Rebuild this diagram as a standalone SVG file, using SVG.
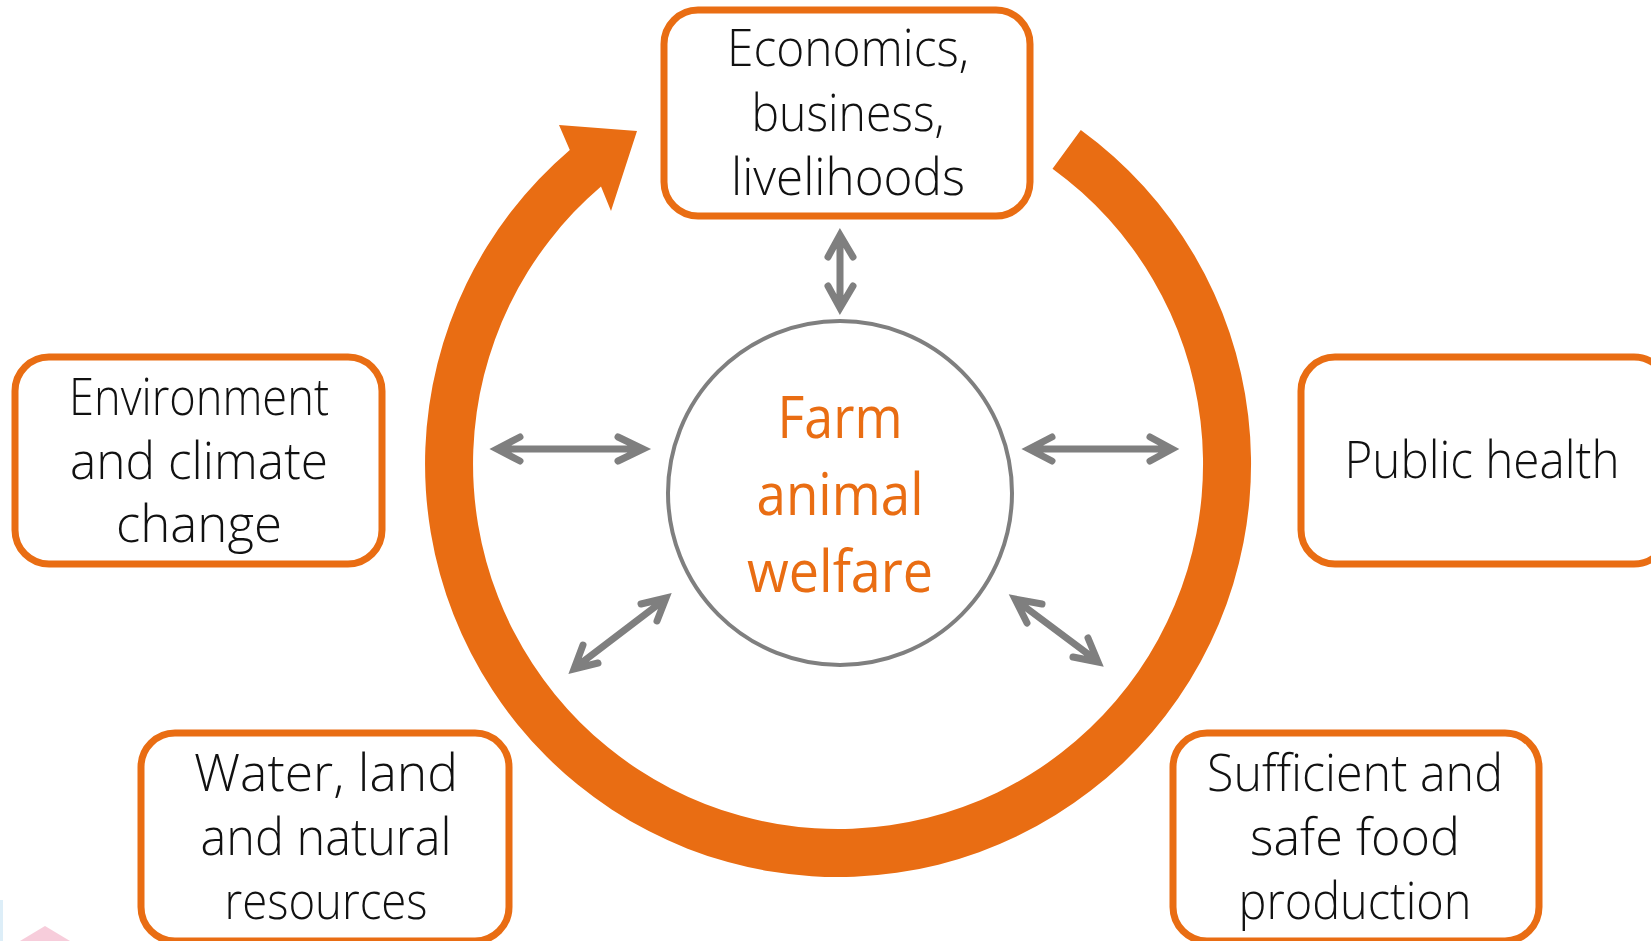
<svg xmlns="http://www.w3.org/2000/svg" width="1651" height="941" viewBox="0 0 1651 941">
<defs>
<style>
.box{fill:#fff;stroke:#E96D13;stroke-width:7}
.lbl{font-family:"Open Sans",Lato,"DejaVu Sans",sans-serif;font-weight:300;font-size:51px;fill:#111;text-anchor:middle}
.ctr{font-family:"Open Sans",Lato,sans-serif;font-size:58px;fill:#E96D13;text-anchor:middle}
.ga{fill:none;stroke:#7F7F7F;stroke-width:7;stroke-linecap:round;stroke-linejoin:miter}
</style>
</defs>
<rect width="1651" height="941" fill="#fff"/>
<polygon points="20,941 45,926 70,941" fill="#F7CDDB"/>
<rect x="0" y="900" width="3" height="41" fill="#DDEEF8"/>
<g id="cycle">
<path d="M 1080.8 129.9 A 413 413 0 1 1 569.8 150 L 559 125 L 637 131 L 611 211 L 601 186.5 A 365 365 0 1 0 1052.5 168.7 Z" fill="#E96D13"/>
</g>
<g id="center">
<circle cx="840" cy="493" r="172" fill="#fff" stroke="#7F7F7F" stroke-width="4"/>
<text class="ctr" x="840" y="438" textLength="125" lengthAdjust="spacingAndGlyphs">Farm</text>
<text class="ctr" x="840" y="515" textLength="167" lengthAdjust="spacingAndGlyphs">animal</text>
<text class="ctr" x="840" y="592" textLength="186" lengthAdjust="spacingAndGlyphs">welfare</text>
</g>
<g id="economics">
<rect class="box" x="664" y="10" width="366" height="206" rx="34"/>
<text class="lbl" x="848" y="66" textLength="242" lengthAdjust="spacingAndGlyphs">Economics,</text>
<text class="lbl" x="848" y="131" textLength="193" lengthAdjust="spacingAndGlyphs">business,</text>
<text class="lbl" x="848" y="195" textLength="234" lengthAdjust="spacingAndGlyphs">livelihoods</text>
</g>
<g id="environment">
<rect class="box" x="15" y="357" width="367" height="207" rx="34"/>
<text class="lbl" x="199" y="415" textLength="260" lengthAdjust="spacingAndGlyphs">Environment</text>
<text class="lbl" x="199" y="479" textLength="258" lengthAdjust="spacingAndGlyphs">and climate</text>
<text class="lbl" x="199" y="542" textLength="166" lengthAdjust="spacingAndGlyphs">change</text>
</g>
<g id="public-health">
<rect class="box" x="1301" y="357" width="367" height="207" rx="34"/>
<text class="lbl" x="1482" y="478" textLength="275" lengthAdjust="spacingAndGlyphs">Public health</text>
</g>
<g id="water">
<rect class="box" x="141" y="733" width="368" height="208" rx="34"/>
<text class="lbl" x="326" y="791" textLength="264" lengthAdjust="spacingAndGlyphs">Water, land</text>
<text class="lbl" x="326" y="855" textLength="251" lengthAdjust="spacingAndGlyphs">and natural</text>
<text class="lbl" x="326" y="919" textLength="203" lengthAdjust="spacingAndGlyphs">resources</text>
</g>
<g id="food">
<rect class="box" x="1173" y="733" width="366" height="208" rx="34"/>
<text class="lbl" x="1355" y="791" textLength="296" lengthAdjust="spacingAndGlyphs">Sufficient and</text>
<text class="lbl" x="1355" y="855" textLength="210" lengthAdjust="spacingAndGlyphs">safe food</text>
<text class="lbl" x="1355" y="919" textLength="233" lengthAdjust="spacingAndGlyphs">production</text>
</g>
<g id="connectors">
<path class="ga" d="M840 238 L840 305 M828 257 L840 235 L853 257 M828 286 L840 308 L853 286"/>
<path class="ga" d="M499 449 L641 449 M520 437 L497 449 L520 461 M618 437 L643 449 L618 461"/>
<path class="ga" d="M1031 449 L1170 449 M1052 437 L1029 449 L1052 461 M1150 437 L1172 449 L1150 461"/>
<path class="ga" d="M576 667 L664 600 M641 604 L666 598 L657 621 M583 645 L574 669 L598 663"/>
<path class="ga" d="M1017 601 L1096 660 M1042 604 L1015 599 L1027 623 M1088 638 L1098 662 L1073 657"/>
</g>
</svg>
